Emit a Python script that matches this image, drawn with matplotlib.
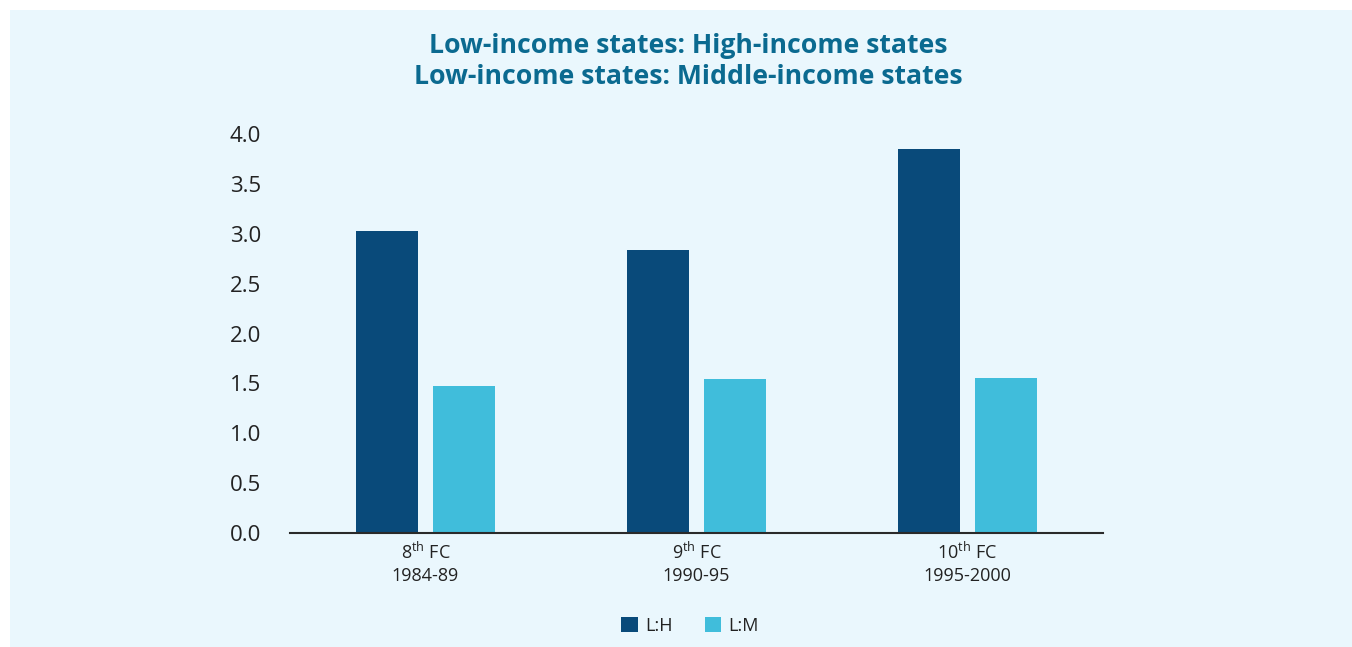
import matplotlib
matplotlib.use("Agg")
import matplotlib.pyplot as plt
import numpy as np
from matplotlib.patches import Patch, Rectangle

plt.rcParams['font.family'] = ['Open Sans', 'DejaVu Sans']
plt.rcParams['mathtext.fontset'] = 'custom'
plt.rcParams['mathtext.rm'] = 'Open Sans'

# finance commission periods and the two ratios
ordinals = ["8", "9", "10"]
periods = ["1984-89", "1990-95", "1995-2000"]
low_high = [3.03, 2.84, 3.85]
low_mid = [1.47, 1.54, 1.55]
yticks = [0.0, 0.5, 1.0, 1.5, 2.0, 2.5, 3.0, 3.5, 4.0]

dark = "#094a7a"
light = "#40bddb"
bg = "#eaf7fd"
text_col = "#222222"

W, H = 1352, 647
fig = plt.figure(figsize=(W / 100, H / 100), dpi=100)
fig.patch.set_facecolor("white")
fig.patches.append(Rectangle((10 / W, 0), 1 - 10 / W, 1 - 10 / H,
                             transform=fig.transFigure, facecolor=bg,
                             edgecolor="none", zorder=-10))

ax = fig.add_axes([290 / W, (H - 533) / H, 813 / W, 399 / H])
ax.set_facecolor("none")
ax.set_zorder(2)

x = np.arange(len(periods))
bw = 0.229
off = 0.142
ax.bar(x - off, low_high, width=bw, color=dark, zorder=2)
ax.bar(x + off, low_mid, width=bw, color=light, zorder=2)

ax.set_xlim(-0.5, 2.5)
ax.set_ylim(0, 4.0)
ax.set_yticks(yticks)
ax.set_yticklabels([f"{v:.1f}" for v in yticks], fontsize=16, color=text_col)
ax.tick_params(axis="y", length=0, pad=21)
ax.set_xticks(x)
ax.set_xticklabels([f"{o}$^{{\\mathrm{{th}}}}$ FC\n{p}" for o, p in zip(ordinals, periods)],
                   fontsize=13, color=text_col, linespacing=1.35)
ax.tick_params(axis="x", length=0, pad=6)

for s in ["top", "right", "left"]:
    ax.spines[s].set_visible(False)
ax.spines["bottom"].set_color("#2a2a2a")
ax.spines["bottom"].set_linewidth(1.5)
ax.spines["bottom"].set_zorder(3)

title_col = "#0b6a90"
fig.text(688 / W, 1 - 46 / H, "Low-income states: High-income states",
         ha="center", va="center", fontsize=19.2, fontweight="bold", color=title_col)
fig.text(688 / W, 1 - 77 / H, "Low-income states: Middle-income states",
         ha="center", va="center", fontsize=19.2, fontweight="bold", color=title_col)

handles = [Patch(facecolor=dark, label="L:H"), Patch(facecolor=light, label="L:M")]
fig.legend(handles=handles, loc="center", bbox_to_anchor=(690 / W, 1 - 626 / H),
           ncol=2, frameon=False, fontsize=13, handlelength=0.9, handleheight=0.9,
           handletextpad=0.4, columnspacing=1.8, labelcolor=text_col)

fig.savefig("out.png", dpi=100, facecolor=fig.get_facecolor())
